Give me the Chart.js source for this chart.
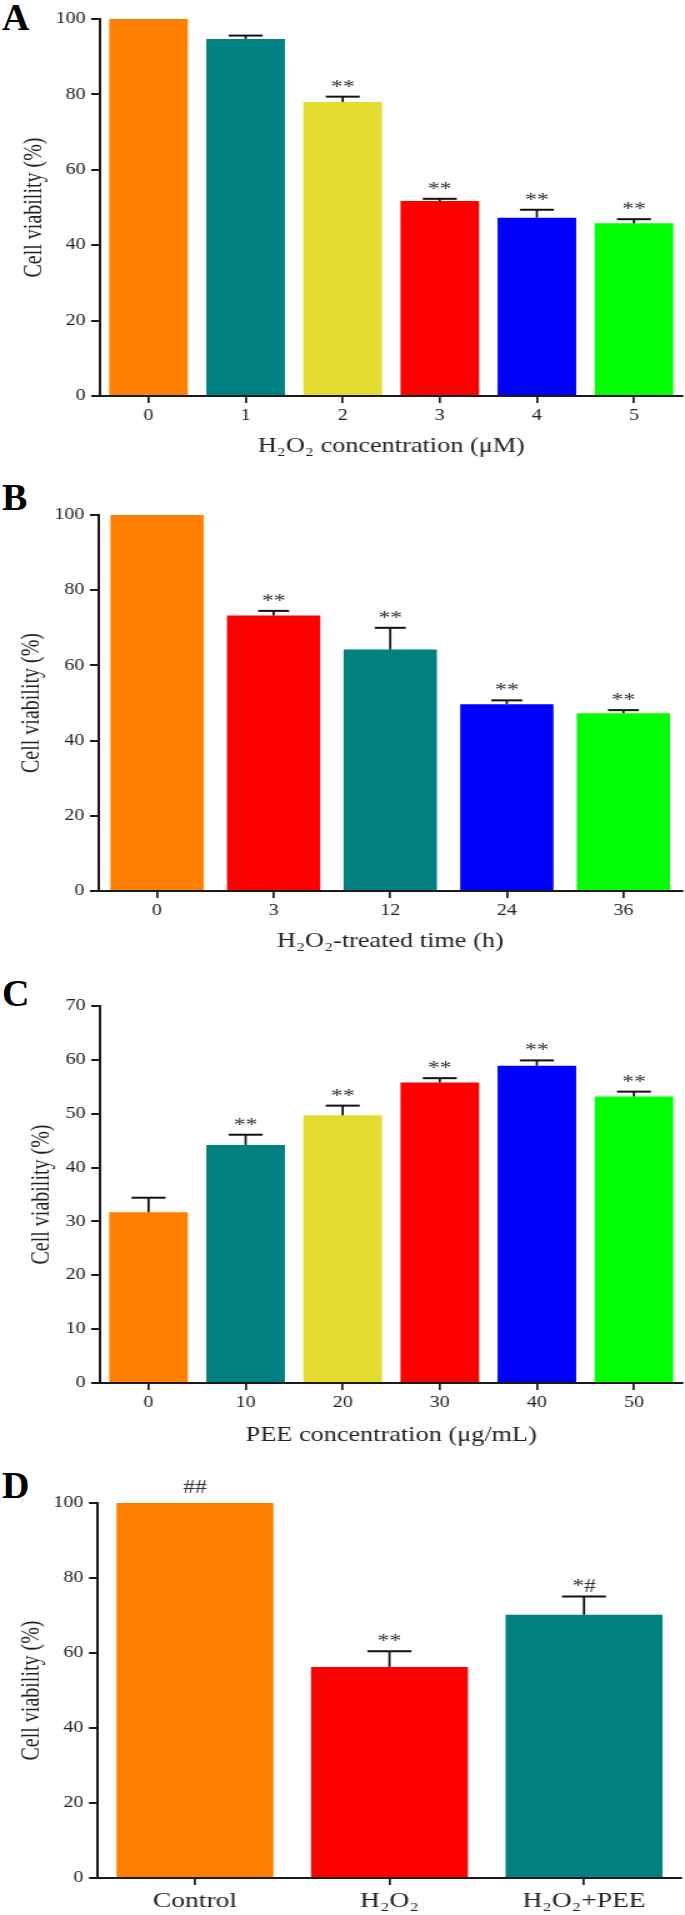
<!DOCTYPE html>
<html><head><meta charset="utf-8">
<script src="https://cdn.jsdelivr.net/npm/chart.js@4.4.1/dist/chart.umd.min.js"></script>
<style>
html,body{margin:0;padding:0;background:#fff;}
body{width:685px;height:1915px;position:relative;overflow:hidden;}
.panel{position:absolute;left:0;width:548px;transform:scaleX(1.25);transform-origin:0 0;}
.letter{position:absolute;left:2px;font:bold 38px "Liberation Serif","Times New Roman",serif;line-height:1;color:#000;}
</style></head><body>
<div class="letter" style="top:-2px">A</div>
<div class="letter" style="top:478px">B</div>
<div class="letter" style="top:974px">C</div>
<div class="letter" style="top:1466px">D</div>
<div class="panel" style="top:0px;height:466px"><canvas id="cA"></canvas></div>
<div class="panel" style="top:470px;height:491px"><canvas id="cB"></canvas></div>
<div class="panel" style="top:960px;height:493px"><canvas id="cC"></canvas></div>
<div class="panel" style="top:1455px;height:460px"><canvas id="cD"></canvas></div>
<script>
// ---- Data ----
const categoriesA = ['0', '1', '2', '3', '4', '5'];
const valuesA = [100, 94.7, 78.0, 51.7, 47.3, 45.8];
const errorsA = [0, 0.9, 1.4, 0.6, 2.1, 1.1];
const marksA = ['', '', '**', '**', '**', '**'];
const yTicksA = [0, 20, 40, 60, 80, 100];

const categoriesB = ['0', '3', '12', '24', '36'];
const valuesB = [100, 73.3, 64.2, 49.7, 47.3];
const errorsB = [0, 1.2, 5.8, 1.0, 0.8];
const marksB = ['', '**', '**', '**', '**'];
const yTicksB = [0, 20, 40, 60, 80, 100];

const categoriesC = ['0', '10', '20', '30', '40', '50'];
const valuesC = [31.7, 44.2, 49.7, 55.8, 58.9, 53.2];
const errorsC = [2.7, 1.9, 1.8, 0.8, 1.0, 0.9];
const marksC = ['', '**', '**', '**', '**', '**'];
const yTicksC = [0, 10, 20, 30, 40, 50, 60, 70];

const categoriesD = ['Control', 'H\u2082O\u2082', 'H\u2082O\u2082+PEE'];
const valuesD = [100, 56.3, 70.2];
const errorsD = [0, 4.2, 4.9];
const marksD = ['##', '**', '*#'];
const yTicksD = [0, 20, 40, 60, 80, 100];

const titleA = 'H\u2082O\u2082 concentration (\u03bcM)';
const titleB = 'H\u2082O\u2082-treated time (h)';
const titleC = 'PEE concentration (\u03bcg/mL)';
const yTitle = 'Cell viability (%)';

// ---- Styles ----
const ORANGE = '#FF8000', TEAL = '#008080', YELLOW = '#E5DC32', RED = '#FF0000', BLUE = '#0000FF', GREEN = '#00FF00';
const FONT = '"Liberation Serif", "Times New Roman", serif';
const AX = '#1a1a1a', TXT = '#222';
const SX = 1.25;

const errorBarPlugin = {
  id: 'errbars',
  afterDatasetsDraw(chart, args, opts) {
    const ctx = chart.ctx, y = chart.scales.y;
    const ds = chart.data.datasets[0];
    const meta = chart.getDatasetMeta(0);
    ctx.save();
    meta.data.forEach((bar, i) => {
      const v = ds.data[i], e = opts.errors[i] || 0;
      const yTop = y.getPixelForValue(v + e);
      const x = bar.x;
      if (e > 0) {
        ctx.strokeStyle = '#111';
        ctx.lineWidth = 2.2 / SX;
        ctx.beginPath(); ctx.moveTo(x, bar.y); ctx.lineTo(x, yTop); ctx.stroke();
        ctx.lineWidth = 2;
        const hw = opts.capWidth / SX / 2;
        ctx.beginPath(); ctx.moveTo(x - hw, yTop); ctx.lineTo(x + hw, yTop); ctx.stroke();
      }
      const m = opts.marks[i];
      if (m) {
        ctx.fillStyle = '#333';
        ctx.font = '19px ' + FONT;
        ctx.textAlign = 'center';
        ctx.textBaseline = 'alphabetic';
        const gap = m.includes('#') ? (e > 0 ? 4 : 10) : 4;
        ctx.fillText(m, x, yTop - gap);
      }
    });
    ctx.restore();
  }
};

function makeChart(id, cfg) {
  const yt = cfg.yTicks;
  return new Chart(document.getElementById(id), {
    type: 'bar',
    data: {
      labels: cfg.labels,
      datasets: [{ data: cfg.values, backgroundColor: cfg.colors, borderWidth: 0,
                   barPercentage: cfg.barPct, categoryPercentage: 1 }]
    },
    options: {
      responsive: true, maintainAspectRatio: false, animation: false,
      layout: { padding: { top: cfg.padTop, right: cfg.padRight, left: 0, bottom: 0 } },
      plugins: {
        legend: { display: false }, tooltip: { enabled: false },
        errbars: { errors: cfg.errors, marks: cfg.marks, capWidth: cfg.capWidth }
      },
      scales: {
        x: {
          offset: true,
          grid: { display: true, drawOnChartArea: false, drawTicks: true, tickLength: 7, offset: false, color: AX, lineWidth: 1.7 },
          border: { display: true, color: AX, width: 2 },
          ticks: { color: TXT, font: { family: FONT, size: cfg.xTickSize }, padding: 3, maxRotation: 0, autoSkip: false },
          title: cfg.xTitle ? { display: true, text: cfg.xTitle, color: TXT, font: { family: FONT, size: 21 },
                                padding: { top: 0, bottom: cfg.xTitlePad } } : { display: false },
          afterFit: s => { s.height = cfg.xh; }
        },
        y: {
          min: yt[0], max: yt[yt.length - 1],
          ticks: { stepSize: yt[1] - yt[0], color: TXT, font: { family: FONT, size: 16 }, padding: 4.5 },
          grid: { display: true, drawOnChartArea: false, drawTicks: true, tickLength: 7, color: AX, lineWidth: 2 },
          border: { display: true, color: AX, width: 2 },
          title: { display: true, text: yTitle, color: TXT, font: { family: FONT, size: 20 },
                   padding: { top: cfg.yTitlePad, bottom: 0 } },
          afterFit: s => { s.width = cfg.axisX / SX; }
        }
      }
    },
    plugins: [errorBarPlugin]
  });
}

makeChart('cA', { labels: categoriesA, values: valuesA, errors: errorsA, marks: marksA, yTicks: yTicksA,
  colors: [ORANGE, TEAL, YELLOW, RED, BLUE, GREEN], barPct: 0.81, capWidth: 34,
  padTop: 19, padRight: 2, xh: 70, xTitle: titleA, xTitlePad: 7.4, xTickSize: 16, axisX: 100, yTitlePad: 16 });

makeChart('cB', { labels: categoriesB, values: valuesB, errors: errorsB, marks: marksB, yTicks: yTicksB,
  colors: [ORANGE, RED, TEAL, BLUE, GREEN], barPct: 0.80, capWidth: 31,
  padTop: 45, padRight: 2.6, xh: 70, xTitle: titleB, xTitlePad: 6.7, xTickSize: 16, axisX: 98.7, yTitlePad: 14 });

makeChart('cC', { labels: categoriesC, values: valuesC, errors: errorsC, marks: marksC, yTicks: yTicksC,
  colors: [ORANGE, TEAL, YELLOW, RED, BLUE, GREEN], barPct: 0.81, capWidth: 34,
  padTop: 46, padRight: 2, xh: 70, xTitle: titleC, xTitlePad: 5.4, xTickSize: 16, axisX: 100, yTitlePad: 22 });

makeChart('cD', { labels: categoriesD, values: valuesD, errors: errorsD, marks: marksD, yTicks: yTicksD,
  colors: [ORANGE, RED, TEAL], barPct: 0.807, capWidth: 44,
  padTop: 48, padRight: 3, xh: 37, xTitle: null, xTitlePad: 0, xTickSize: 22, axisX: 97.7, yTitlePad: 13.6 });
</script>
</body></html>
